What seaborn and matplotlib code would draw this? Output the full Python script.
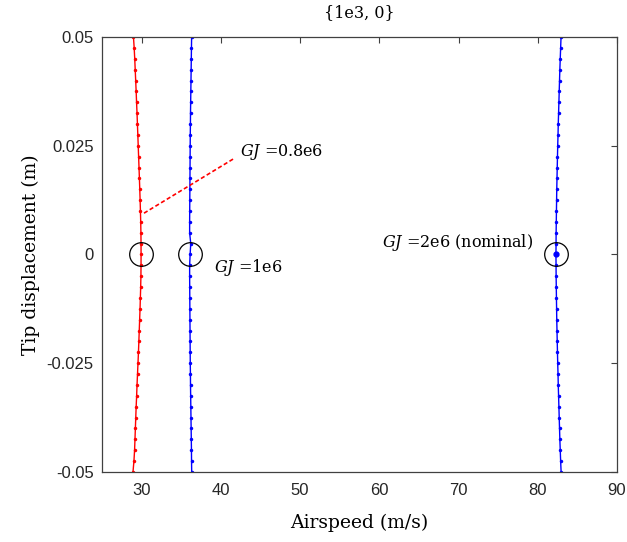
import matplotlib
matplotlib.use("Agg")
import matplotlib.pyplot as plt
import seaborn as sns
import pandas as pd

# ---- data ----
tip_disp = [0.05, 0.0475, 0.045, 0.0425, 0.04, 0.0375, 0.035, 0.0325, 0.03, 0.0275,
            0.025, 0.0225, 0.02, 0.0175, 0.015, 0.0125, 0.01, 0.0075, 0.005, 0.0025,
            0.0, -0.0025, -0.005, -0.0075, -0.01, -0.0125, -0.015, -0.0175, -0.02, -0.0225,
            -0.025, -0.0275, -0.03, -0.0325, -0.035, -0.0375, -0.04, -0.0425, -0.045, -0.0475,
            -0.05]

speed_gj08 = [28.97, 29.06, 29.13, 29.19, 29.25, 29.31, 29.36, 29.42, 29.47, 29.52,
              29.57, 29.62, 29.67, 29.72, 29.765, 29.81, 29.85, 29.885, 29.91, 29.925,
              29.93, 29.925, 29.91, 29.88, 29.84, 29.80, 29.75, 29.70, 29.65, 29.60,
              29.54, 29.48, 29.42, 29.37, 29.31, 29.26, 29.21, 29.16, 29.11, 29.03,
              28.91]

speed_gj1 = [36.31, 36.29, 36.27, 36.25, 36.23, 36.21, 36.19, 36.17, 36.16, 36.14,
             36.13, 36.12, 36.11, 36.10, 36.09, 36.08, 36.07, 36.06, 36.06, 36.20,
             36.12, 36.06, 36.06, 36.07, 36.08, 36.09, 36.10, 36.11, 36.12, 36.13,
             36.14, 36.16, 36.17, 36.19, 36.21, 36.23, 36.25, 36.27, 36.29, 36.30,
             36.32]

speed_gj2 = [82.94, 82.89, 82.84, 82.79, 82.75, 82.71, 82.67, 82.63, 82.59, 82.56,
             82.52, 82.49, 82.46, 82.43, 82.40, 82.38, 82.36, 82.34, 82.32, 82.31,
             82.30, 82.31, 82.32, 82.34, 82.36, 82.38, 82.40, 82.43, 82.46, 82.49,
             82.52, 82.56, 82.59, 82.63, 82.67, 82.71, 82.75, 82.79, 82.84, 82.89,
             82.95]

circle_speed = [29.92, 36.10, 82.30]
circle_disp = [0.0, 0.0, 0.0]

x_ticks = [30, 40, 50, 60, 70, 80, 90]
y_ticks = [-0.05, -0.025, 0, 0.025, 0.05]
y_ticklabels = ["-0.05", "-0.025", "0", "0.025", "0.05"]

# ---- style ----
sns.set_theme(style="white")
plt.rcParams["font.family"] = ["Liberation Sans", "DejaVu Sans"]
plt.rcParams["mathtext.fontset"] = "dejavuserif"
SERIF = ["DejaVu Serif"]
AX_COL = "#404040"

fig = plt.figure(figsize=(6.27, 5.42), dpi=100)
ax = fig.add_axes([0.1627, 0.1292, 0.8213, 0.8025])

df = pd.DataFrame({"disp": tip_disp, "gj08": speed_gj08, "gj1": speed_gj1, "gj2": speed_gj2})

for col, c in [("gj08", "#ff0000"), ("gj1", "#0000ff"), ("gj2", "#0000ff")]:
    sns.lineplot(data=df, x=col, y="disp", sort=False, estimator=None, color=c,
                 linewidth=1.0, marker=".", markersize=5, markeredgewidth=0,
                 ax=ax, legend=False)

# nominal point marker
ax.plot([circle_speed[2]], [circle_disp[2]], marker=".", color="#0000ff", markersize=7, linestyle="none")

# circles
ax.plot(circle_speed, circle_disp, linestyle="none", marker="o", markersize=17,
        markerfacecolor="none", markeredgecolor="black", markeredgewidth=0.9)

# annotation dashed line for GJ=0.8e6
ax.plot([30.3, 41.6], [0.0095, 0.022], linestyle=(0, (2.5, 1.5)), color="#ff0000", linewidth=1.2)

ax.text(42.4, 0.0235, r"$GJ$ =0.8e6", family=SERIF, fontsize=11.5, va="center", ha="left", color="black")
ax.text(39.1, -0.003, r"$GJ$ =1e6", family=SERIF, fontsize=11.5, va="center", ha="left", color="black")
ax.text(60.4, 0.0027, r"$GJ$ =2e6 (nominal)", family=SERIF, fontsize=11.5, va="center", ha="left", color="black")

ax.set_xlim(25, 90)
ax.set_ylim(-0.05, 0.05)
ax.set_xticks(x_ticks)
ax.set_yticks(y_ticks)
ax.set_yticklabels(y_ticklabels)

ax.tick_params(direction="in", length=4.5, width=0.8, colors=AX_COL, labelsize=12,
               top=True, right=True, labelcolor="#262626", pad=6)
ax.tick_params(axis="x", pad=8)
for s in ax.spines.values():
    s.set_color(AX_COL)
    s.set_linewidth(0.9)
    s.set_visible(True)

ax.set_xlabel("Airspeed (m/s)", family=SERIF, fontsize=13.5, labelpad=11, color="black")
ax.set_ylabel("Tip displacement (m)", family=SERIF, fontsize=13.5, labelpad=5, color="black")
ax.set_title("{1e3, 0}", family=SERIF, fontsize=11.5, pad=14, color="black")

fig.savefig("out.png", dpi=100)
